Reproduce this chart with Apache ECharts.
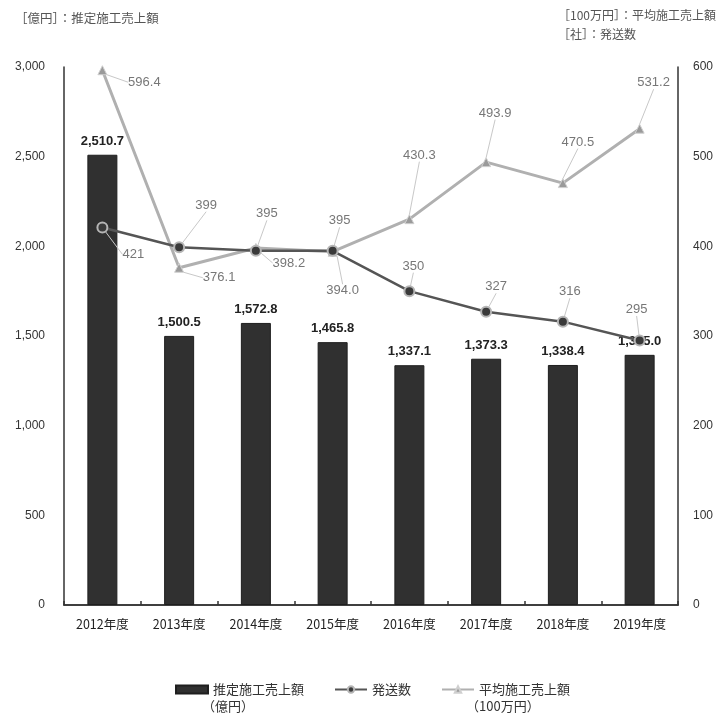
<!DOCTYPE html>
<html>
<head>
<meta charset="utf-8">
<script src="https://cdn.jsdelivr.net/npm/echarts@6/dist/echarts.min.js"></script>
<style>
  html, body { margin: 0; padding: 0; background: #fff; }
  #chart { width: 727px; height: 719px; }
</style>
</head>
<body>
<div id="chart"></div>
<script>
// Fiscal years
const years = ['2012年度', '2013年度', '2014年度', '2015年度', '2016年度', '2017年度', '2018年度', '2019年度'];
// 推定施工売上額 (億円) - bars, left axis
const salesTotal = [2510.7, 1500.5, 1572.8, 1465.8, 1337.1, 1373.3, 1338.4, 1395.0];
// 発送数 (社) - right axis
const shipments = [421, 399, 395, 395, 350, 327, 316, 295];
// 平均施工売上額 (100万円) - right axis
const avgSales = [596.4, 376.1, 398.2, 394.0, 430.3, 493.9, 470.5, 531.2];
// Axis ticks
const leftTicks = [0, 500, 1000, 1500, 2000, 2500, 3000];
const rightTicks = [0, 100, 200, 300, 400, 500, 600];

// Label offsets (from each point's centre), keeps labels clear of the lines
const avgLabelShift = [[42, 12], [40, 10], [33, 15], [10, 39], [10, -64], [9, -49], [15, -41], [14, -46]];
const shipLabelShift = [[31, 27], [27, -42], [11, -37], [7, -30], [4, -25], [10, -25], [7, -30], [-3, -31]];

const CJK = '"Noto Sans CJK JP", "Noto Sans", sans-serif';
const NUM = '"Liberation Sans", "DejaVu Sans", sans-serif';

const chart = echarts.init(document.getElementById('chart'), null, { renderer: 'canvas' });

const fmtComma = v => Number(v).toLocaleString('en-US');
const fmtOne = v => Number(v).toLocaleString('en-US', { minimumFractionDigits: 1, maximumFractionDigits: 1 });

chart.setOption({
  animation: false,
  backgroundColor: '#fff',
  graphic: [
    { type: 'text', left: 15, top: 12, style: { text: '［億円］：推定施工売上額', font: '12.5px ' + CJK, fill: '#555' } },
    { type: 'text', left: 558, top: 9, style: { text: '［100万円］：平均施工売上額', font: '12px ' + CJK, fill: '#555' } },
    { type: 'text', left: 558, top: 28, style: { text: '［社］：発送数', font: '12px ' + CJK, fill: '#555' } },
    { type: 'text', left: 202, top: 700, style: { text: '（億円）', font: '13px ' + CJK, fill: '#333' } },
    { type: 'text', left: 466, top: 700, style: { text: '（100万円）', font: '13px ' + CJK, fill: '#333' } }
  ],
  legend: {
    left: 170,
    top: 678,
    itemGap: 30,
    itemWidth: 32,
    itemHeight: 8,
    textStyle: { fontFamily: CJK, fontSize: 13, color: '#333' },
    data: [
      { name: '推定施工売上額', icon: 'rect' },
      '発送数',
      '平均施工売上額'
    ]
  },
  grid: { left: 64, right: 49, top: 67, bottom: 114, containLabel: false },
  xAxis: [
    {
      type: 'category',
      data: years,
      position: 'bottom',
      axisLine: { show: true, lineStyle: { color: '#333', width: 1.5 } },
      axisTick: { show: false },
      axisLabel: { color: '#222', fontSize: 12.5, fontFamily: CJK, margin: 13 }
    },
    {
      type: 'category',
      data: years,
      position: 'top',
      axisLine: { show: true, lineStyle: { color: '#333', width: 1.5 } },
      axisTick: { show: true, length: 4, lineStyle: { color: '#333', width: 1.5 } },
      axisLabel: { show: false }
    }
  ],
  yAxis: [
    {
      type: 'value',
      min: leftTicks[0],
      max: leftTicks[leftTicks.length - 1],
      interval: leftTicks[1] - leftTicks[0],
      axisLine: { show: true, lineStyle: { color: '#333', width: 1.5 } },
      axisTick: { show: false },
      splitLine: { show: false },
      axisLabel: { color: '#333', fontSize: 12, fontFamily: NUM, margin: 19, formatter: fmtComma }
    },
    {
      type: 'value',
      min: rightTicks[0],
      max: rightTicks[rightTicks.length - 1],
      interval: rightTicks[1] - rightTicks[0],
      position: 'right',
      axisLine: { show: true, lineStyle: { color: '#333', width: 1.5 } },
      axisTick: { show: false },
      splitLine: { show: false },
      axisLabel: { color: '#333', fontSize: 12, fontFamily: NUM, margin: 15 }
    }
  ],
  series: [
    {
      name: '推定施工売上額',
      type: 'bar',
      xAxisIndex: 0,
      yAxisIndex: 0,
      data: salesTotal,
      barWidth: 30,
      itemStyle: { color: '#303030', borderColor: '#1e1e1e', borderWidth: 1 },
      label: {
        show: true,
        position: 'top',
        distance: 7,
        color: '#222',
        fontFamily: NUM,
        fontWeight: 'bold',
        fontSize: 13,
        formatter: p => fmtOne(p.value)
      },
      z: 2
    },
    {
      name: '発送数',
      type: 'line',
      xAxisIndex: 0,
      yAxisIndex: 1,
      data: shipments,
      symbol: 'circle',
      symbolSize: 10,
      lineStyle: { color: '#555', width: 2.5 },
      itemStyle: { color: '#3a3a3a', borderColor: '#b5b5b5', borderWidth: 2 },
      label: {
        show: true,
        position: 'inside',
        color: '#777',
        fontFamily: NUM,
        fontSize: 13,
        formatter: p => String(p.value)
      },
      labelLine: { show: true, lineStyle: { color: '#c8c8c8', width: 1 } },
      labelLayout: p => ({ dx: shipLabelShift[p.dataIndex][0], dy: shipLabelShift[p.dataIndex][1] }),
      z: 4
    },
    {
      name: '平均施工売上額',
      type: 'line',
      xAxisIndex: 0,
      yAxisIndex: 1,
      data: avgSales,
      symbol: 'triangle',
      symbolSize: 9,
      lineStyle: { color: '#b0b0b0', width: 3 },
      itemStyle: { color: '#9a9a9a', borderColor: '#cfcfcf', borderWidth: 1 },
      label: {
        show: true,
        position: 'inside',
        color: '#777',
        fontFamily: NUM,
        fontSize: 13,
        formatter: p => fmtOne(p.value)
      },
      labelLine: { show: true, lineStyle: { color: '#c8c8c8', width: 1 } },
      labelLayout: p => ({ dx: avgLabelShift[p.dataIndex][0], dy: avgLabelShift[p.dataIndex][1] }),
      z: 3
    }
  ]
});
</script>
</body>
</html>
